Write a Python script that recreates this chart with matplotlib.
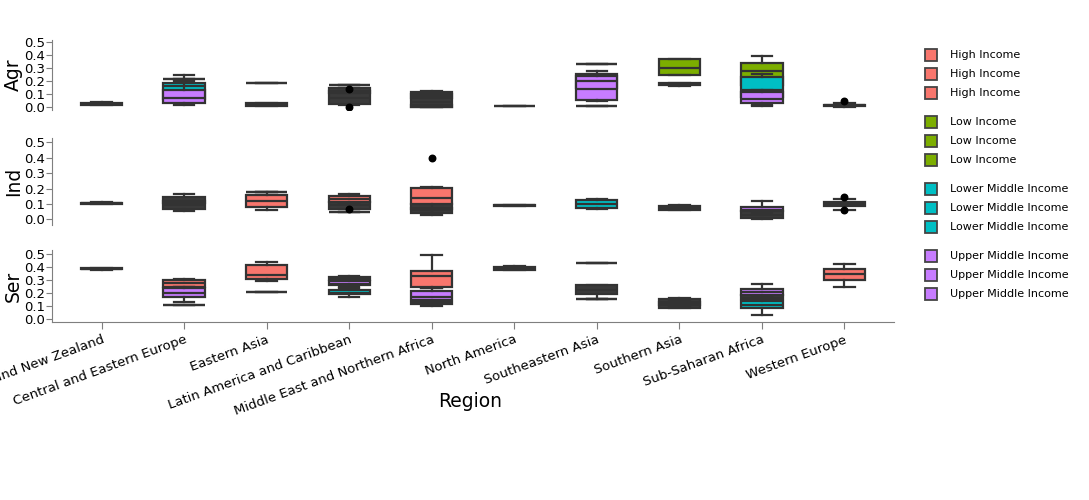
import matplotlib
matplotlib.use("Agg")
import matplotlib.pyplot as plt
from matplotlib.patches import Rectangle

regions = ["Australia and New Zealand", "Central and Eastern Europe", "Eastern Asia",
           "Latin America and Caribbean", "Middle East and Northern Africa", "North America",
           "Southeastern Asia", "Southern Asia", "Sub-Saharan Africa", "Western Europe"]
groups = ["High Income", "Low Income", "Lower Middle Income", "Upper Middle Income"]
group_colors = ["#F8766D", "#7CAE00", "#00BFC4", "#C77CFF"]
panel_names = ["Agr", "Ind", "Ser"]
yticks = [0.0, 0.1, 0.2, 0.3, 0.4, 0.5]

# box rows: (region index, lower whisker, q1, median, q3, upper whisker)
agr_high = [(0, .015, .02, .027, .035, .04), (1, .215, .215, .215, .215, .215),
            (2, .01, .012, .02, .032, .035), (3, .175, .175, .175, .175, .175),
            (4, .0, .002, .006, .015, .02), (5, .007, .008, .01, .012, .013),
            (6, .008, .008, .008, .008, .008), (9, .005, .01, .015, .02, .03)]
agr_low = [(6, .331, .331, .331, .331, .331), (7, .245, .249, .305, .369, .375),
           (8, .10, .17, .282, .338, .397)]
agr_lower_mid = [(1, .04, .06, .16, .185, .20), (3, .108, .108, .115, .122, .122),
                 (4, .074, .074, .088, .105, .105), (6, .1, .15, .2, .254, .26),
                 (7, .165, .17, .177, .185, .19), (8, .02, .08, .13, .236, .256)]
agr_upper_mid = [(1, .018, .036, .074, .133, .25), (2, .19, .19, .19, .19, .19),
                 (6, .05, .056, .144, .24, .282), (8, .01, .031, .064, .115, .13)]
agr_other = [(3, .02, .025, .07, .146, .15), (4, .0, .002, .04, .115, .128)]
agr_outliers = [(3, .138), (3, .005), (9, .051)]

ind_high = [(0, .098, .1, .104, .107, .11), (2, .06, .078, .12, .158, .175),
            (3, .1, .115, .13, .154, .165), (4, .04, .1, .141, .201, .212),
            (5, .086, .088, .091, .094, .096), (9, .06, .085, .1, .112, .132)]
ind_low = []
ind_lower_mid = [(3, .048, .048, .048, .048, .048), (6, .065, .075, .1, .125, .13),
                 (7, .058, .062, .075, .088, .092)]
ind_upper_mid = [(1, .105, .108, .113, .12, .12), (2, .18, .18, .18, .18, .18),
                 (4, .066, .066, .07, .076, .076), (8, .04, .055, .058, .082, .119)]
ind_other = [(1, .055, .065, .093, .143, .162), (3, .065, .068, .09, .112, .115),
             (4, .028, .043, .06, .098, .1), (8, .002, .008, .03, .052, .06)]
ind_outliers = [(4, .40), (3, .065), (9, .147), (9, .058)]

ser_high = [(0, .38, .383, .387, .392, .395), (1, .25, .25, .275, .302, .31),
            (2, .296, .307, .34, .418, .443), (3, .3, .305, .315, .325, .335),
            (4, .24, .25, .332, .373, .497), (5, .375, .38, .395, .405, .41),
            (6, .436, .436, .436, .436, .436), (9, .245, .302, .345, .387, .425)]
ser_low = [(7, .09, .105, .12, .135, .15)]
ser_lower_mid = [(1, .106, .106, .106, .106, .106), (3, .17, .19, .2, .225, .24),
                 (4, .1, .115, .12, .128, .135), (6, .155, .155, .155, .155, .155),
                 (8, .028, .082, .111, .142, .17)]
ser_upper_mid = [(1, .134, .168, .2, .24, .25), (2, .211, .211, .211, .211, .211),
                 (3, .25, .265, .272, .29, .3), (4, .12, .147, .168, .219, .237),
                 (8, .15, .186, .206, .229, .273)]
ser_other = [(6, .155, .19, .224, .262, .262), (7, .082, .085, .12, .158, .16),
             (8, .15, .152, .165, .185, .186)]
ser_outliers = []

panels = [
    ([agr_high, agr_low, agr_lower_mid, agr_upper_mid], agr_other, agr_outliers),
    ([ind_high, ind_low, ind_lower_mid, ind_upper_mid], ind_other, ind_outliers),
    ([ser_high, ser_low, ser_lower_mid, ser_upper_mid], ser_other, ser_outliers),
]

W, H = 1089, 500
line_c = "#333333"
axis_c = "#7f7f7f"

# pixel boxes of each panel (left, top, right, bottom) and y limits
panel_px = [(52, 40, 894, 110), (52, 138, 894, 225), (52, 250, 894, 322)]
panel_ylim = [(-0.021, 0.518), (-0.037, 0.528), (-0.023, 0.533)]

fig = plt.figure(figsize=(W / 100, H / 100), dpi=100)


def draw_boxes(ax, rows, color):
    if not rows:
        return
    stats = [dict(whislo=r[1], q1=r[2], med=r[3], q3=r[4], whishi=r[5], fliers=[]) for r in rows]
    lp = dict(color=line_c, linewidth=1.6)
    ax.bxp(stats, positions=[r[0] for r in rows], widths=0.5, capwidths=0.25,
           patch_artist=True, showfliers=False, manage_ticks=False,
           boxprops=dict(facecolor=color, edgecolor=line_c, linewidth=1.6),
           medianprops=lp, whiskerprops=lp, capprops=lp)


for i, (group_rows, other_rows, outliers) in enumerate(panels):
    l, t, r, b = panel_px[i]
    ax = fig.add_axes([l / W, 1 - b / H, (r - l) / W, (b - t) / H])
    draw_boxes(ax, other_rows, "#3a3a3a")
    for rows, col in zip(group_rows, group_colors):
        draw_boxes(ax, rows, col)
    if outliers:
        ax.scatter([o[0] for o in outliers], [o[1] for o in outliers], s=22, color="black", zorder=5)
    ax.set_xlim(-0.6, 9.6)
    ax.set_ylim(*panel_ylim[i])
    ax.set_yticks(yticks)
    ax.set_yticklabels([f"{v:.1f}" for v in yticks], fontsize=9.5)
    for s in ["top", "right"]:
        ax.spines[s].set_visible(False)
    ax.spines["left"].set_color(axis_c)
    ax.tick_params(axis="y", colors=axis_c, labelcolor="black", length=4, pad=1)
    ax.set_ylabel(panel_names[i], fontsize=13.5)
    # right edge of the rotated title sits ~29 px left of the axis line
    ax.yaxis.set_label_coords(-29 / (r - l), 0.5)
    if i < 2:
        ax.spines["bottom"].set_visible(False)
        ax.set_xticks([])
    else:
        ax.spines["bottom"].set_color(axis_c)
        ax.set_xticks(range(len(regions)))
        ax.set_xticklabels(regions, rotation=20, ha="right", rotation_mode="anchor",
                           fontsize=9.5)
        ax.tick_params(axis="x", colors=axis_c, labelcolor="black", length=5, pad=3)
        ax.set_xlabel("Region", fontsize=13.5)
        ax.xaxis.set_label_coords(0.497, -0.97)

# legend: each income group repeated once per panel
y0 = 55
for gi, (name, col) in enumerate(zip(groups, group_colors)):
    for k in range(3):
        yc = y0 + gi * 67 + k * 19
        fig.add_artist(Rectangle((925 / W, 1 - (yc + 6) / H), 12 / W, 12 / H,
                                 transform=fig.transFigure, facecolor=col,
                                 edgecolor="#444444", linewidth=1.3))
        fig.text(950 / W, 1 - yc / H, name, fontsize=8, va="center", ha="left")

fig.savefig("out.png", dpi=100)
